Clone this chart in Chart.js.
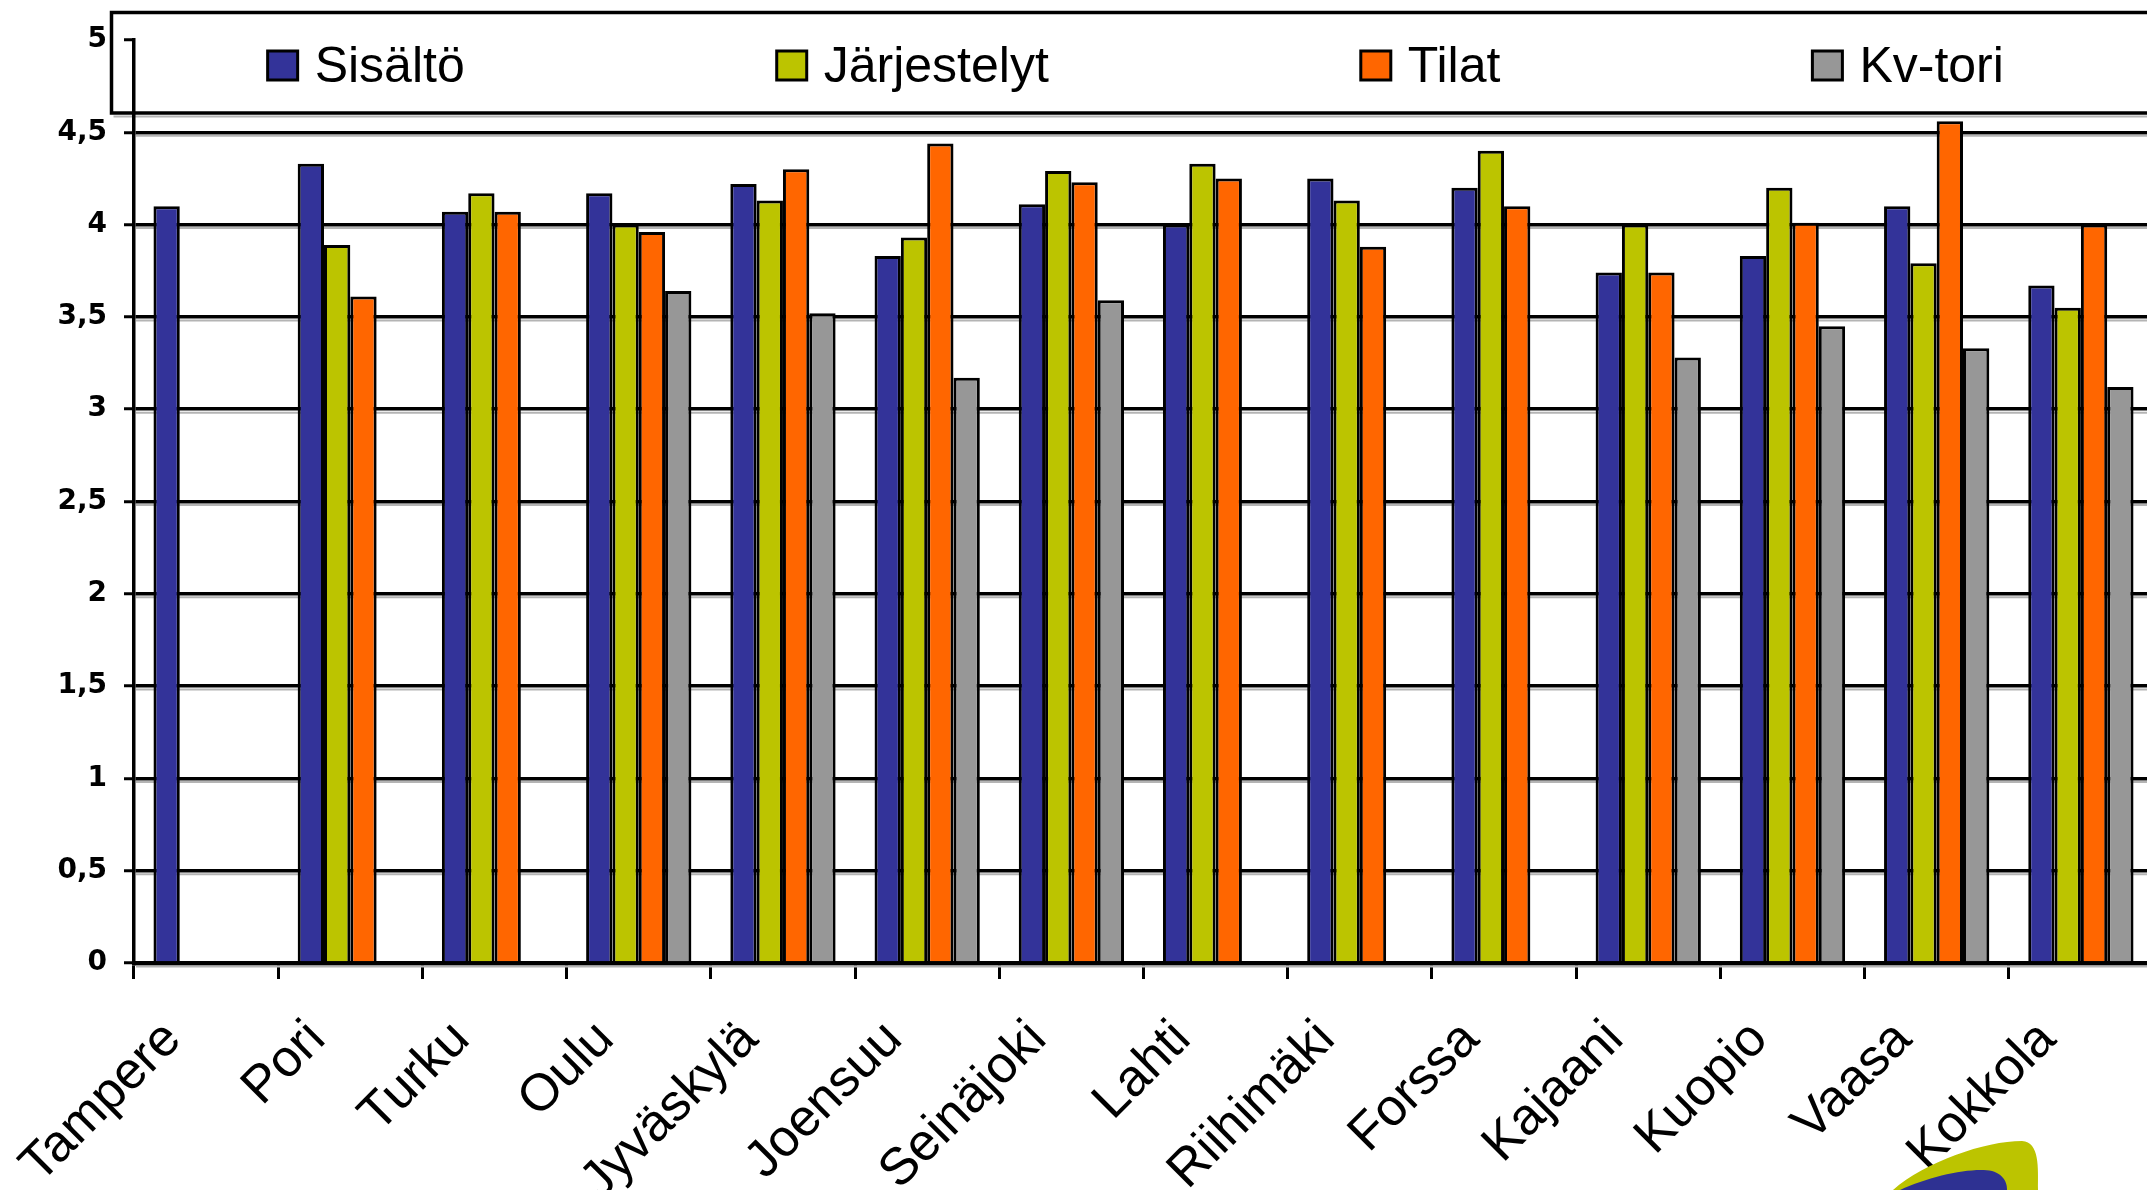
<!DOCTYPE html>
<html>
<head>
<meta charset="utf-8">
<script src="https://cdn.jsdelivr.net/npm/chart.js@4/dist/chart.umd.min.js"></script>
<style>
  html, body { margin: 0; padding: 0; background: #fff; overflow: hidden; width: 2147px; height: 1190px; }
  #wrap { position: absolute; left: 0; top: 0; width: 2160px; height: 1190px; }
  #logo { position: absolute; left: 0; top: 0; width: 2147px; height: 1190px; pointer-events: none; }
</style>
</head>
<body>
<div id="wrap"><canvas id="c"></canvas></div>
<svg id="logo" viewBox="0 0 2147 1190" xmlns="http://www.w3.org/2000/svg">
  <path d="M1893,1190 C1925,1162 1985,1141 2022,1141 C2040,1142 2038,1168 2038,1190 Z" fill="#BCC400"/>
  <path d="M1900,1190 C1930,1176 1972,1167 1992,1171 C2005,1175 2007,1184 2007,1190 Z" fill="#2E3192"/>
</svg>
<script>
const categories = ["Tampere","Pori","Turku","Oulu","Jyväskylä","Joensuu","Seinäjoki","Lahti","Riihimäki","Forssa","Kajaani","Kuopio","Vaasa","Kokkola"];
const seriesNames = ["Sisältö","Järjestelyt","Tilat","Kv-tori"];
const sisalto     = [4.10, 4.33, 4.07, 4.17, 4.22, 3.83, 4.11, 4.00, 4.25, 4.20, 3.74, 3.83, 4.10, 3.67];
const jarjestelyt = [null, 3.89, 4.17, 4.00, 4.13, 3.93, 4.29, 4.33, 4.13, 4.40, 4.00, 4.20, 3.79, 3.55];
const tilat       = [null, 3.61, 4.07, 3.96, 4.30, 4.44, 4.23, 4.25, 3.88, 4.10, 3.74, 4.01, 4.56, 4.00];
const kvtori      = [null, null, null, 3.64, 3.52, 3.17, 3.59, null, null, null, 3.28, 3.45, 3.33, 3.12];
const yTicks = [0, 0.5, 1, 1.5, 2, 2.5, 3, 3.5, 4, 4.5, 5];
const colors = ["#333399", "#BCC400", "#FF6600", "#979797"];

const FONT = "'Liberation Sans', Arial, sans-serif";

const legendBoxPlugin = {
  id: 'legendBox',
  beforeDraw(chart) {
    const ctx = chart.ctx;
    const W = chart.width;
    const left = 111.5, top = 12.5, bottom = 113;
    ctx.save();
    ctx.fillStyle = '#fff';
    ctx.fillRect(left, top, W + 10 - left, bottom - top);
    ctx.strokeStyle = '#b4b4b4';
    ctx.lineWidth = 2;
    ctx.beginPath(); ctx.moveTo(left + 2, bottom + 3.5); ctx.lineTo(W + 10, bottom + 3.5); ctx.stroke();
    ctx.strokeStyle = '#000';
    ctx.lineWidth = 3.5;
    ctx.strokeRect(left, top, W + 10 - left, bottom - top);
    ctx.font = "50px " + FONT;
    const boxW = 30, boxH = 29, gapText = 17, gapItem = 312;
    const widths = seriesNames.map(n => ctx.measureText(n).width);
    const total = widths.reduce((a, b) => a + b, 0) + seriesNames.length * (boxW + gapText) + (seriesNames.length - 1) * gapItem;
    let x = (left + W) / 2 - total / 2;
    ctx.textBaseline = 'alphabetic';
    ctx.textAlign = 'left';
    seriesNames.forEach((n, i) => {
      ctx.fillStyle = colors[i];
      ctx.fillRect(x, 51, boxW, boxH);
      ctx.lineWidth = 3;
      ctx.strokeStyle = '#000';
      ctx.strokeRect(x, 51, boxW, boxH);
      ctx.fillStyle = '#000';
      ctx.fillText(n, x + boxW + gapText, 82);
      x += boxW + gapText + widths[i] + gapItem;
    });
    ctx.restore();
  }
};

const gridShadowPlugin = {
  id: 'gridShadow',
  beforeDatasetsDraw(chart) {
    const ctx = chart.ctx, y = chart.scales.y, area = chart.chartArea;
    ctx.save();
    ctx.strokeStyle = '#b4b4b4';
    ctx.lineWidth = 2;
    y.ticks.forEach(t => {
      if (t.value === 5) return;
      const py = y.getPixelForValue(t.value) + 3.5;
      ctx.beginPath(); ctx.moveTo(area.left + 2, py); ctx.lineTo(area.right, py); ctx.stroke();
    });
    ctx.restore();
  }
};

const data = {
  labels: categories,
  datasets: [sisalto, jarjestelyt, tilat, kvtori].map((arr, i) => ({
    label: seriesNames[i],
    data: arr,
    backgroundColor: colors[i],
    borderColor: '#000',
    borderWidth: 3,
    categoryPercentage: 0.73,
    barPercentage: 1.0
  }))
};

new Chart(document.getElementById('c'), {
  type: 'bar',
  data,
  plugins: [legendBoxPlugin, gridShadowPlugin],
  options: {
    responsive: true,
    maintainAspectRatio: false,
    animation: false,
    events: [],
    layout: { padding: { left: 0, top: 40, right: 7, bottom: 0 } },
    plugins: { legend: { display: false }, tooltip: { enabled: false }, title: { display: false } },
    scales: {
      x: {
        offset: true,
        grid: { offset: true, drawOnChartArea: false, drawTicks: true, tickLength: 16, tickColor: '#000', tickWidth: 3 },
        border: { display: true, color: '#000', width: 4.5 },
        ticks: {
          autoSkip: false, minRotation: 45, maxRotation: 45,
          padding: 30, labelOffset: -33,
          color: '#000',
          font: { family: FONT, size: 52, weight: 'normal' }
        },
        afterFit(scale) { scale.height = 227; }
      },
      y: {
        min: 0, max: 5,
        afterBuildTicks(scale) { scale.ticks = yTicks.map(v => ({ value: v })); },
        grid: {
          color: (c) => (c.tick && c.tick.value === 5) ? 'rgba(0,0,0,0)' : '#000',
          lineWidth: 3.5,
          drawTicks: true, tickLength: 10, tickColor: '#000', tickWidth: 3
        },
        border: { display: true, color: '#000', width: 3.5 },
        ticks: {
          padding: 17,
          color: '#000',
          font: { family: "'DejaVu Sans', sans-serif", size: 28, weight: 'bold' },
          callback: (v) => String(v).replace('.', ',')
        },
        afterFit(scale) { scale.width = 134; }
      }
    }
  }
});
</script>
</body>
</html>
